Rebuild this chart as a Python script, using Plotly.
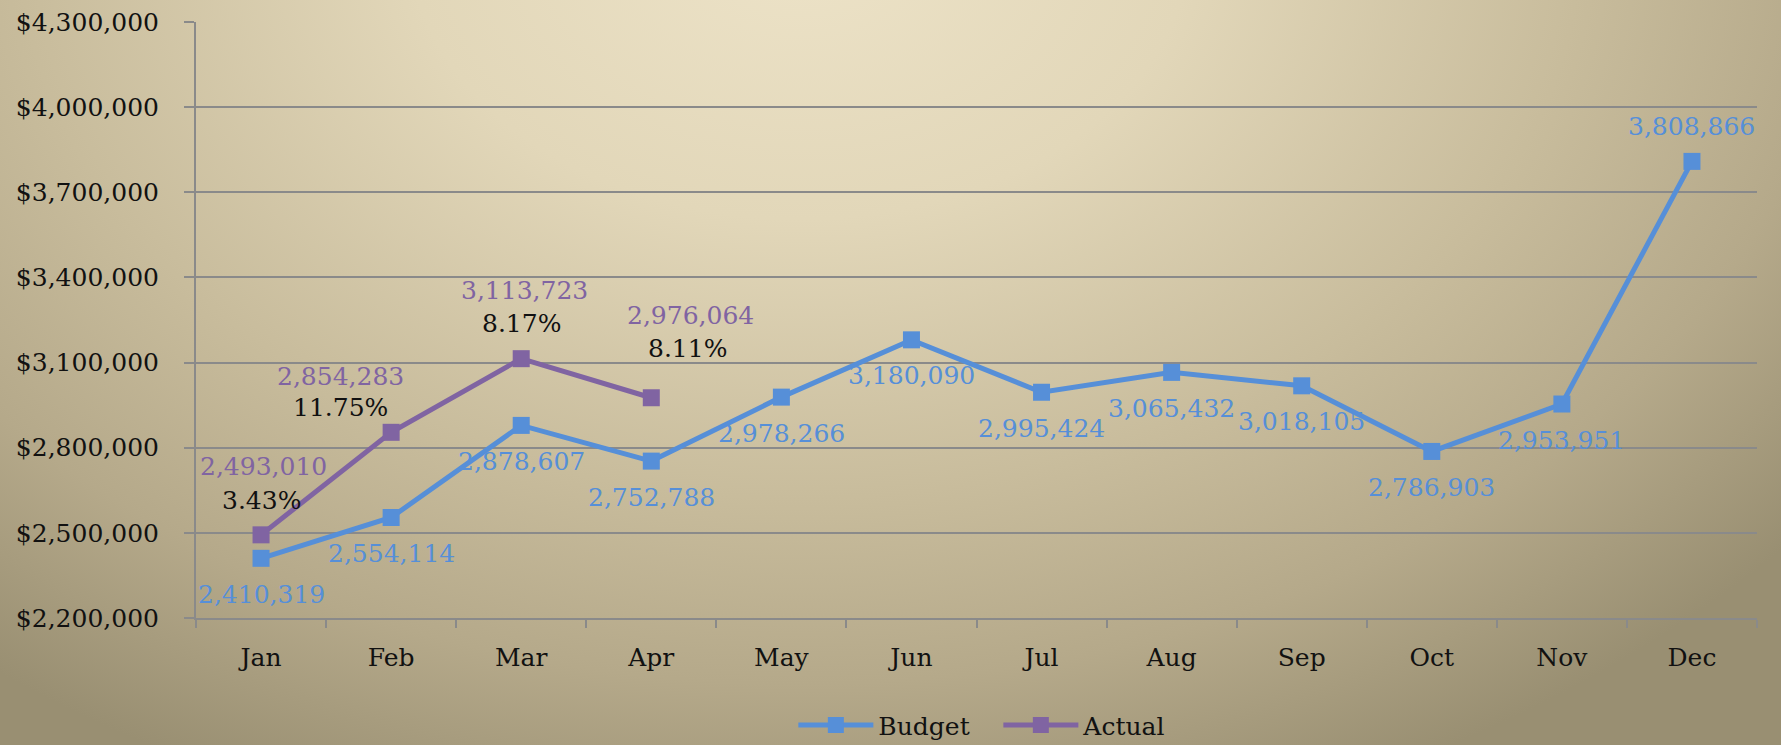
import base64
import plotly.graph_objects as go

months = ["Jan", "Feb", "Mar", "Apr", "May", "Jun", "Jul", "Aug", "Sep", "Oct", "Nov", "Dec"]
budget = [2410319, 2554114, 2878607, 2752788, 2978266, 3180090, 2995424, 3065432, 3018105, 2786903, 2953951, 3808866]
actual = [2493010, 2854283, 3113723, 2976064]
pct_labels = ["3.43%", "11.75%", "8.17%", "8.11%"]

# label placement (style only, in pixels)
budget_label_dy = [-36] * 11 + [35]
actual_val_dx = [2, -51, 3, 39]
actual_val_dy = [68, 56, 68, 82]
actual_pct_dx = [0, -51, 0, 36]
actual_pct_dy = [34, 25, 35, 49]

BLUE = "#568FD8"
PURPLE = "#8064A2"
GRID = "#8A8A8A"
FONT = "DejaVu Serif"
FS = 25

W, H = 1781, 745
ML, MR, MT, MB = 196, 24, 22, 127
PW, PH = W - ML - MR, H - MT - MB

svg = f'''<svg xmlns="http://www.w3.org/2000/svg" width="{W}" height="{H}" viewBox="0 0 {W} {H}" preserveAspectRatio="none">
<defs><radialGradient id="g" gradientUnits="userSpaceOnUse" cx="0" cy="0" r="1" gradientTransform="translate(800,-60) scale(1300,930)">
<stop offset="0" stop-color="#EDE3C8"/>
<stop offset="0.3" stop-color="#E2D7B9"/>
<stop offset="0.6" stop-color="#C8BC9C"/>
<stop offset="0.8" stop-color="#B5A98A"/>
<stop offset="1" stop-color="#998F72"/>
</radialGradient></defs>
<rect x="0" y="0" width="{W}" height="{H}" fill="url(#g)"/>
</svg>'''
src = "data:image/svg+xml;base64," + base64.b64encode(svg.encode()).decode()

fig = go.Figure()
fig.add_trace(go.Scatter(
    x=months, y=budget, name="Budget", mode="lines+markers",
    line=dict(color=BLUE, width=5), marker=dict(symbol="square", size=17, color=BLUE),
))
fig.add_trace(go.Scatter(
    x=months[:len(actual)], y=actual, name="Actual", mode="lines+markers",
    line=dict(color=PURPLE, width=5), marker=dict(symbol="square", size=17, color=PURPLE),
))

anns = []
for m, v, dy in zip(months, budget, budget_label_dy):
    anns.append(dict(x=m, y=v, xref="x", yref="y", text=f"{v:,}", showarrow=False,
                     yshift=dy, font=dict(family=FONT, size=FS, color=BLUE)))
for i, (m, v) in enumerate(zip(months, actual)):
    anns.append(dict(x=m, y=v, xref="x", yref="y", text=f"{v:,}", showarrow=False,
                     xshift=actual_val_dx[i], yshift=actual_val_dy[i],
                     font=dict(family=FONT, size=FS, color=PURPLE)))
    anns.append(dict(x=m, y=v, xref="x", yref="y", text=pct_labels[i], showarrow=False,
                     xshift=actual_pct_dx[i], yshift=actual_pct_dy[i],
                     font=dict(family=FONT, size=FS, color="#111111")))

fig.update_layout(
    width=W, height=H,
    margin=dict(l=ML, r=MR, t=MT, b=MB, autoexpand=False),
    paper_bgcolor="#A89E80",
    plot_bgcolor="rgba(0,0,0,0)",
    font=dict(family=FONT, size=FS, color="#111111"),
    annotations=anns,
    images=[dict(source=src, xref="paper", yref="paper",
                 x=-ML / PW, y=1 + MT / PH, sizex=W / PW, sizey=H / PH,
                 xanchor="left", yanchor="top", sizing="stretch", layer="below")],
    showlegend=True,
    legend=dict(orientation="h", x=0.514, xanchor="center", y=-0.18, yanchor="middle",
                font=dict(family=FONT, size=FS, color="#111111"),
                bgcolor="rgba(0,0,0,0)", itemwidth=75, entrywidth=115),
    xaxis=dict(
        type="category", range=[-0.5, len(months) - 0.5], tickson="boundaries",
        ticks="outside", ticklen=8, tickwidth=2,
        tickcolor=GRID, showline=True, linecolor=GRID, linewidth=2, showgrid=False,
        ticklabelstandoff=16, zeroline=False, automargin=False,
    ),
    yaxis=dict(
        range=[2200000, 4300000], dtick=300000, tick0=2200000, tickformat="$,.0f",
        ticks="outside", ticklen=10, tickwidth=2, tickcolor=GRID,
        showline=True, linecolor=GRID, linewidth=2,
        showgrid=True, gridcolor=GRID, gridwidth=2, zeroline=False,
        ticklabelstandoff=20, automargin=False,
    ),
)

fig.write_html(
    "out.html",
    config={"displayModeBar": False},
    post_script="document.body.style.margin='0';document.body.style.overflow='hidden';document.body.style.background='#A89E80';",
)
